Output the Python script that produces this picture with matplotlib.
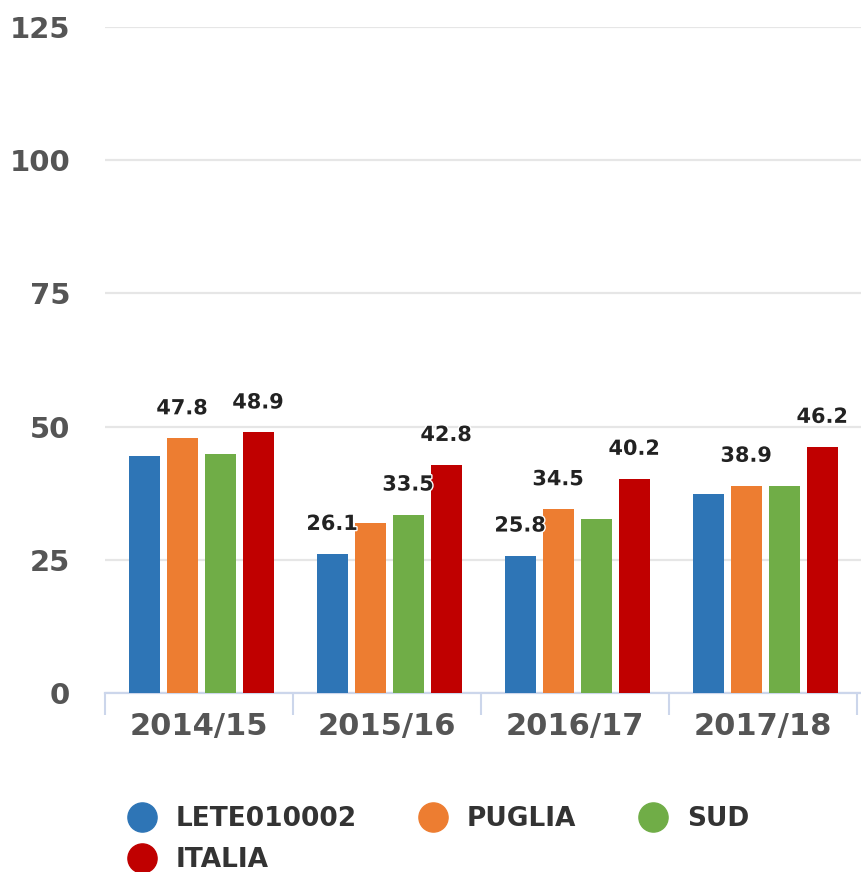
import matplotlib
matplotlib.use("Agg")
import matplotlib.pyplot as plt
from matplotlib.lines import Line2D
import matplotlib.patheffects as pe
import numpy as np

categories = ["2014/15", "2015/16", "2016/17", "2017/18"]
series_names = ["LETE010002", "PUGLIA", "SUD", "ITALIA"]
lete = [44.4, 26.1, 25.8, 37.3]
puglia = [47.8, 31.9, 34.5, 38.9]
sud = [44.8, 33.5, 32.6, 38.8]
italia = [48.9, 42.8, 40.2, 46.2]
values = [lete, puglia, sud, italia]
colors = ["#2e75b6", "#ed7d31", "#70ad47", "#c00000"]
# which data labels are visible in the reference
shown = [
    [False, True, True, False],
    [True, False, True, True],
    [False, True, False, False],
    [True, True, True, True],
]
y_ticks = [0, 25, 50, 75, 100, 125]

plt.rcParams['font.family'] = ['DejaVu Sans']
fig = plt.figure(figsize=(8.61, 8.72), dpi=100)
ax = fig.add_axes([105/861, 1-693/872, 1-105/861, (693-27)/872])

x = np.arange(len(categories))
pitch = 38/188
width = 31/188
for i, (vals, col) in enumerate(zip(values, colors)):
    pos = x + (i - 1.5) * pitch + 2/188
    ax.bar(pos, vals, width=width, color=col, zorder=3)
    for j, v in enumerate(vals):
        if shown[i][j]:
            ax.annotate(f"{v:.1f}", (pos[j], v), xytext=(0, 21.6), textcoords="offset points",
                        ha="center", va="center", fontsize=15, fontweight="bold", color="#222222",
                        zorder=5,
                        path_effects=[pe.withStroke(linewidth=2, foreground="white")])

ax.set_ylim(0, 125)
ax.set_xlim(-0.5, 3.52)
ax.set_yticks(y_ticks)
ax.set_yticklabels([str(t) for t in y_ticks])
ax.grid(axis="y", color="#e6e6e6", linewidth=1.6, zorder=0)
ax.set_axisbelow(True)
ax.tick_params(axis="y", length=0, pad=25, labelsize=21, labelcolor="#555555")
for lab in ax.get_yticklabels():
    lab.set_fontweight("bold")

ax.set_xticks(x)
ax.set_xticklabels(categories)
ax.set_xticks([-0.5, 0.5, 1.5, 2.5, 3.5], minor=True)
ax.tick_params(axis="x", which="major", length=0, pad=14, labelsize=22, labelcolor="#555555")
ax.tick_params(axis="x", which="minor", length=16, width=1.5, color="#ccd6eb")
for lab in ax.get_xticklabels():
    lab.set_fontweight("bold")

for s in ["left", "top", "right"]:
    ax.spines[s].set_visible(False)
ax.spines["bottom"].set_color("#ccd6eb")
ax.spines["bottom"].set_linewidth(1.6)

handles = [Line2D([], [], marker="o", linestyle="none", markersize=21,
                  markerfacecolor=c, markeredgecolor=c) for c in colors]
order = [0, 3, 1, 2]
leg = fig.legend([handles[k] for k in order], [series_names[k] for k in order],
                 ncol=3, loc="upper left", bbox_to_anchor=(126/861, 1-806/872),
                 frameon=False, prop={"size": 19, "weight": "bold"},
                 handletextpad=0.68, columnspacing=2.3, labelspacing=0.57,
                 handlelength=1.2, borderaxespad=0, borderpad=0)
for t in leg.get_texts():
    t.set_color("#333333")

fig.savefig("out.png", dpi=100)
